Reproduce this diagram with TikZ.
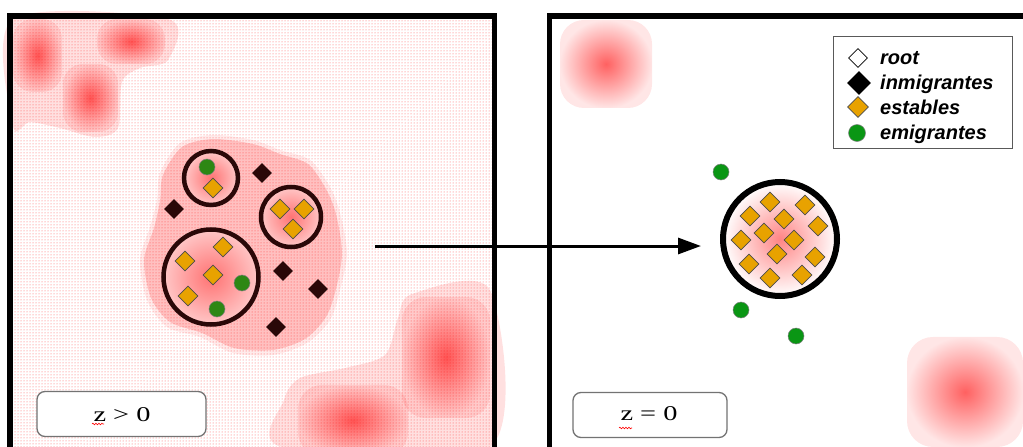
\documentclass[tikz,border=0pt]{standalone}
\usepackage{fontspec}
\newfontfamily\legfont{Liberation Sans}
\newfontfamily\zfont{Liberation Serif}
\usetikzlibrary{shapes.geometric,patterns,fadings,arrows.meta,decorations.pathmorphing}
\tikzfading[name=blobfade, inner color=transparent!38, outer color=transparent!90]
\definecolor{gold}{RGB}{232,162,0}
\definecolor{dkred}{RGB}{42,8,8}
\definecolor{grn}{RGB}{45,135,20}
\definecolor{grnb}{RGB}{10,150,20}
\begin{document}
\begin{tikzpicture}[x=1pt,y=-1pt,
  stab/.style={diamond, draw=black!70, line width=0.6pt, fill=gold, minimum size=20pt, inner sep=0pt},
  inm/.style={diamond, fill=dkred, minimum size=20pt, inner sep=0pt},
  emi/.style={circle, fill=grn, draw=black!50, line width=0.5pt, minimum size=16pt, inner sep=0pt},
  panel/.style={line width=5.5pt, line join=miter},
  clus/.style={circle, draw=dkred, line width=4.5pt, inner sep=0pt, shade, inner color=red!55!white, outer color=red!22!white},
  blob/.style={fill=red, path fading=blobfade},
  halo/.style={fill=red, opacity=0.18},
  labelbox/.style={draw=black!55, line width=1.3pt, rounded corners=8pt, fill=white, minimum width=169pt, minimum height=45pt, inner sep=0pt},
  ztext/.style={font=\zfont\fontsize{21}{24}\selectfont, inner sep=0pt},
  legtext/.style={font=\legfont\bfseries\itshape\fontsize{20}{22}\selectfont, anchor=base west, inner sep=0pt},
  squig/.style={red, line width=0.6pt, decorate, decoration={snake, amplitude=0.8pt, segment length=3pt}},
  arr/.style={line width=3pt, -{Triangle[length=23pt,width=16pt]}}
]
\useasboundingbox (0,0) rectangle (1023,447);
\fill[white] (0,0) rectangle (1023,447);
% left panel background
\fill[pattern=dots, pattern color=red!65] (12,18) rectangle (492,447);
% halos
\fill[red, opacity=0.12] plot[smooth cycle] coordinates {(13,19) (168,19) (168,60) (140,68) (122,82) (118,128) (95,137) (60,128) (30,122) (13,126)};
\fill[red, opacity=0.12] plot[smooth cycle] coordinates {(282,447) (284,400) (300,378) (345,368) (385,355) (398,318) (412,294) (490,290) (490,447)};
\fill[red, opacity=0.08] plot[smooth cycle] coordinates {(160,173) (180,143) (213,135) (253,140) (280,150) (310,160) (330,187) (340,213) (347,253) (340,290) (330,320) (307,343) (273,355) (233,353) (200,337) (167,327) (147,300) (140,260) (150,227) (157,200)};
\fill[halo] plot[smooth cycle] coordinates {(163,175) (182,147) (213,139) (253,144) (280,154) (308,164) (326,189) (336,214) (342,253) (336,289) (326,317) (305,339) (273,350) (234,348) (202,333) (170,322) (151,298) (144,260) (154,228) (160,201)};
% blobs left
\fill[blob, rounded corners=20pt] (13,19) rectangle (62,92);
\fill[blob, rounded corners=20pt] (97,19) rectangle (165,64);
\fill[blob, rounded corners=20pt] (63,64) rectangle (118,132);
\fill[blob, rounded corners=24pt] (402,297) rectangle (490,418);
\fill[blob, rounded corners=24pt] (298,385) rectangle (408,456);
% blobs right
\fill[blob, rounded corners=24pt] (560,20) rectangle (652,108);
\fill[blob, rounded corners=26pt] (907,337) rectangle (1023,447);
% panels
\draw[panel] (10,450) -- (10,16) -- (494.5,16) -- (494.5,450);
\draw[panel] (549.5,450) -- (549.5,16) -- (1030,16);
% cluster circles (left)
\node[clus, minimum size=54pt] (c1) at (211,178) {};
\node[clus, minimum size=60pt] (c2) at (291,217) {};
\node[clus, minimum size=95pt] (c3) at (211,277) {};
\node[emi] (g1) at (207,167) {};
\node[stab] (s1) at (213,188) {};
\node[stab] (s2) at (280,209) {};
\node[stab] (s3) at (304,209) {};
\node[stab] (s4) at (293,229) {};
\node[stab] (s5) at (223,247) {};
\node[stab] (s6) at (185,261) {};
\node[stab] (s7) at (213,275) {};
\node[stab] (s8) at (188,296) {};
\node[emi] (g2) at (242,283) {};
\node[emi] (g3) at (217,309) {};
\node[inm] (b1) at (262,173) {};
\node[inm] (b2) at (174,209) {};
\node[inm] (b3) at (283,271) {};
\node[inm] (b4) at (318,289) {};
\node[inm] (b5) at (276,327) {};
% right circle
\node[circle, draw=black, line width=6pt, minimum size=114pt, inner sep=0pt, shade, inner color=red!48!white, outer color=white] (cr) at (780,239) {};
\foreach \p [count=\i] in {(770,202),(805,205),(750,216),(784,219),(818,226),(764,233),(741,240),(794,240),(777,254),(815,257),(749,264),(770,278),(802,275)}
  \node[stab] (r\i) at \p {};
\node[emi, fill=grnb] (e1) at (721,172) {};
\node[emi, fill=grnb] (e2) at (741,310) {};
\node[emi, fill=grnb] (e3) at (796,336) {};
% arrow
\coordinate (from) at (375,246);
\coordinate (to) at (701,246);
\draw[arr] (from) -- (to);
% legend
\node[draw=black!65, line width=0.8pt, minimum width=179pt, minimum height=112pt, anchor=north west, inner sep=0pt] (leg) at (833,36) {};
\node[diamond, draw=black, fill=white, minimum size=19pt, inner sep=0pt, line width=0.7pt] (lr) at (858,58) {};
\node[diamond, fill=black, minimum size=24pt, inner sep=0pt] (li) at (859,83) {};
\node[stab, minimum size=21pt] (ls) at (858,107) {};
\node[emi, fill=grnb, minimum size=17pt] (le) at (857,133) {};
\node[legtext] (tr) at (880,64) {root};
\node[legtext] (ti) at (880,89) {inmigrantes};
\node[legtext] (ts) at (880,114) {estables};
\node[legtext] (te) at (880,139) {emigrantes};
% z labels
\node[labelbox] (z1) at (121.5,414) {};
\node[ztext] (t1) at (122,415) {\scalebox{1.35}[1]{z > 0}};
\node[labelbox, minimum width=154pt] (z2) at (650,415) {};
\node[ztext] (t2) at (649,414) {\scalebox{1.35}[1]{z = 0}};
\draw[squig] (92,424) -- (104,424);
\draw[squig] (619,428) -- (632,428);
\end{tikzpicture}
\end{document}
